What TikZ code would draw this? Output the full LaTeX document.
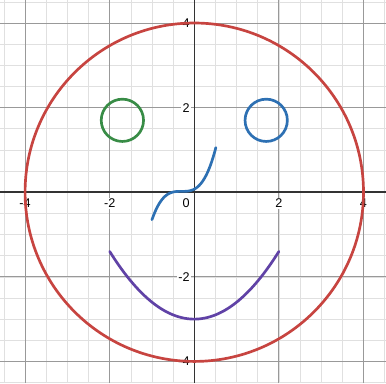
\documentclass[tikz,border=0pt]{standalone}
\usepackage{fontspec}
\setmainfont{Liberation Sans}

\definecolor{facered}{HTML}{C74440}
\definecolor{eyegreen}{HTML}{388C46}
\definecolor{eyeblue}{HTML}{2D70B3}
\definecolor{mouthpurple}{HTML}{6042A6}

\begin{document}
\begin{tikzpicture}[
    minorgrid/.style={draw=black!12, line width=0.4pt},
    majorgrid/.style={draw=black!40, line width=0.6pt},
    axisline/.style={draw=black!80, line width=1pt},
    curve/.style={line width=1.8pt, line cap=round},
    ticklabel/.style={font=\fontsize{8.5}{10}\selectfont, fill=white, inner sep=1pt}
]
    \useasboundingbox (-4.593,-4.511) rectangle (4.532,4.544);
    \fill[white] (-4.593,-4.511) rectangle (4.532,4.544);

    % grid
    \foreach \g in {-4.5,-4,...,4.5} {
        \draw[minorgrid] (\g,-4.511) -- (\g,4.544);
        \draw[minorgrid] (-4.593,\g) -- (4.532,\g);
    }
    \foreach \g in {-4,-2,2,4} {
        \draw[majorgrid] (\g,-4.511) -- (\g,4.544);
        \draw[majorgrid] (-4.593,\g) -- (4.532,\g);
    }
    \draw[axisline] (-4.593,0) -- (4.532,0);
    \draw[axisline] (0,-4.511) -- (0,4.544);

    % tick labels
    \foreach \t in {-4,-2,2,4} {
        \node[ticklabel, anchor=north] (xlab\t) at (\t,-0.12) {\t};
        \node[ticklabel, anchor=east] (ylab\t) at (-0.07,\t) {\t};
    }
    \node[ticklabel, anchor=north east] (origin) at (-0.07,-0.12) {0};

    % face
    \draw[curve, facered] (0,0) circle (4);
    \draw[curve, eyegreen] (-1.7,1.7) circle (0.5);
    \draw[curve, eyeblue] (1.7,1.7) circle (0.5);
    \draw[curve, eyeblue] plot[domain=-1.0:0.51, samples=60, smooth]
        (\x, {1.95*(\x+0.3)^3+0.02});
    \draw[curve, mouthpurple] plot[domain=-2:2, samples=60, smooth]
        (\x, {0.4*\x*\x-3});
\end{tikzpicture}
\end{document}
